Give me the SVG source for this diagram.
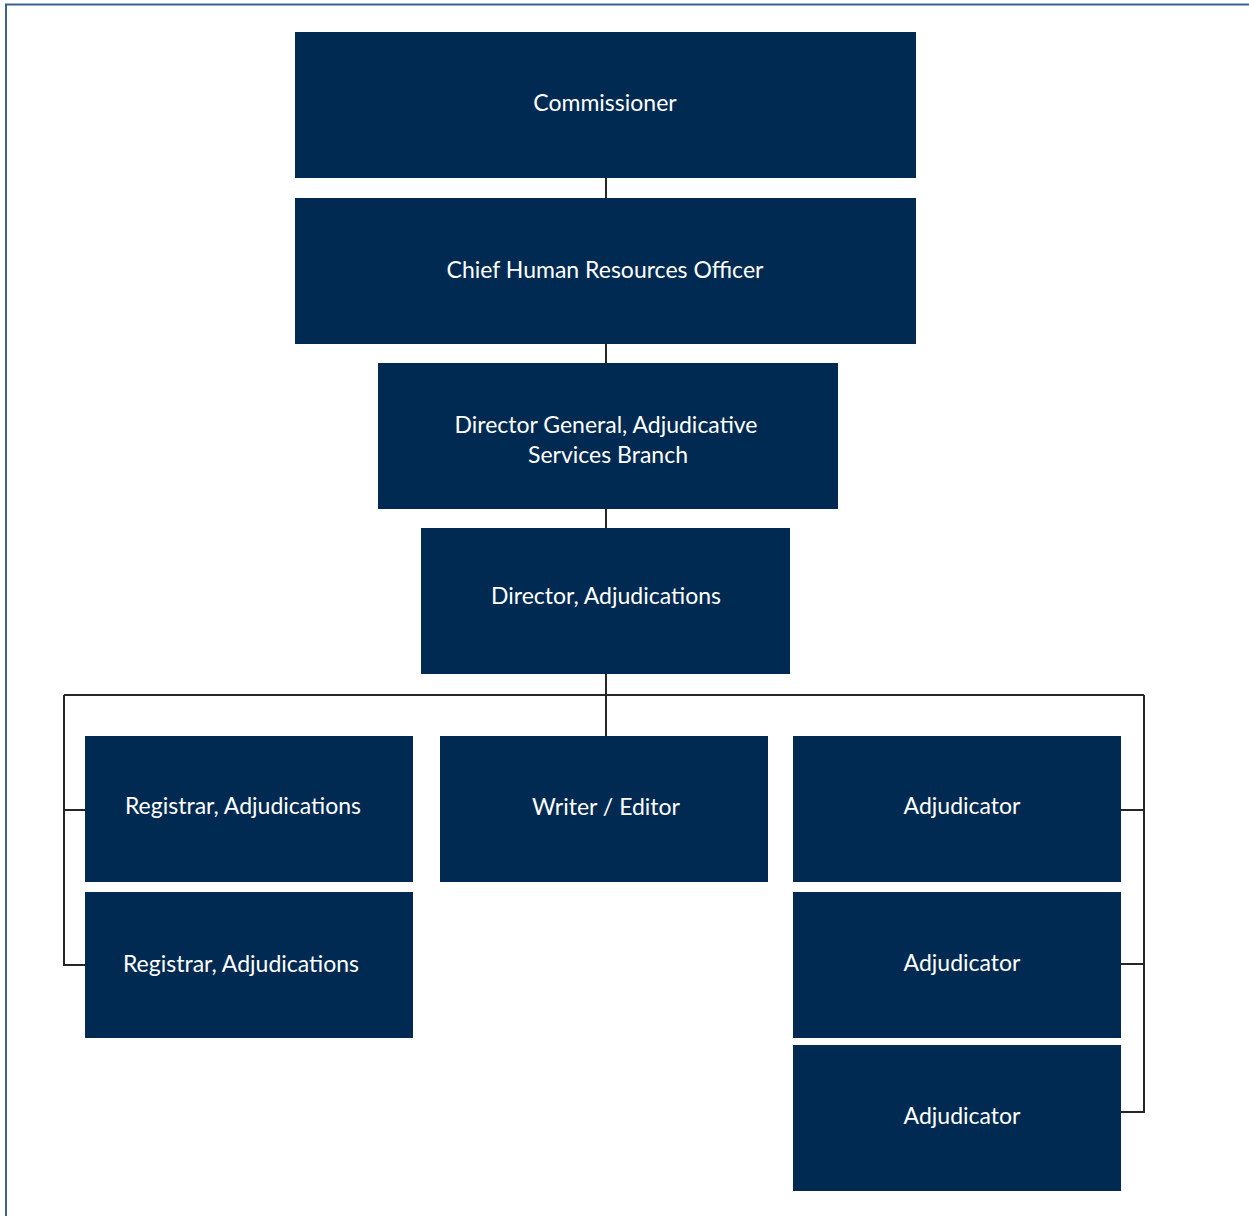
<svg xmlns="http://www.w3.org/2000/svg" width="1249" height="1216" viewBox="0 0 1249 1216">
<style>
.box{fill:#002a52}
.t{font-family:Lato,"Open Sans","Liberation Sans",sans-serif;font-size:23px;fill:#ffffff;text-anchor:middle;dominant-baseline:central}
.c{stroke:#262626;stroke-width:2;fill:none}
</style>
<rect width="1249" height="1216" fill="#ffffff"/>
<path d="M6,1216 V4.5 H1249" fill="none" stroke="#3a6090" stroke-width="2"/>
<g id="connectors">
<path class="c" d="M606,178 V736"/>
<path class="c" d="M64,695 H1144"/>
<path class="c" d="M64,695 V965 H85 M64,810 H85"/>
<path class="c" d="M1144,695 V1112 H1121 M1121,810 H1144 M1121,964 H1144"/>
</g>
<g id="commissioner"><rect class="box" x="295" y="32" width="621" height="146"/><text class="t" x="605" y="102">Commissioner</text></g>
<g id="chro"><rect class="box" x="295" y="198" width="621" height="146"/><text class="t" x="605" y="269">Chief Human Resources Officer</text></g>
<g id="dg"><rect class="box" x="378" y="363" width="460" height="146"/><text class="t" x="606" y="424">Director General, Adjudicative</text><text class="t" x="608" y="454">Services Branch</text></g>
<g id="director"><rect class="box" x="421" y="528" width="369" height="146"/><text class="t" x="606" y="595">Director, Adjudications</text></g>
<g id="registrar1"><rect class="box" x="85" y="736" width="328" height="146"/><text class="t" x="243" y="805">Registrar, Adjudications</text></g>
<g id="registrar2"><rect class="box" x="85" y="892" width="328" height="146"/><text class="t" x="241" y="963">Registrar, Adjudications</text></g>
<g id="writer"><rect class="box" x="440" y="736" width="328" height="146"/><text class="t" x="606" y="806">Writer / Editor</text></g>
<g id="adjudicator1"><rect class="box" x="793" y="736" width="328" height="146"/><text class="t" x="962" y="805">Adjudicator</text></g>
<g id="adjudicator2"><rect class="box" x="793" y="892" width="328" height="146"/><text class="t" x="962" y="962">Adjudicator</text></g>
<g id="adjudicator3"><rect class="box" x="793" y="1045" width="328" height="146"/><text class="t" x="962" y="1115">Adjudicator</text></g>
</svg>
